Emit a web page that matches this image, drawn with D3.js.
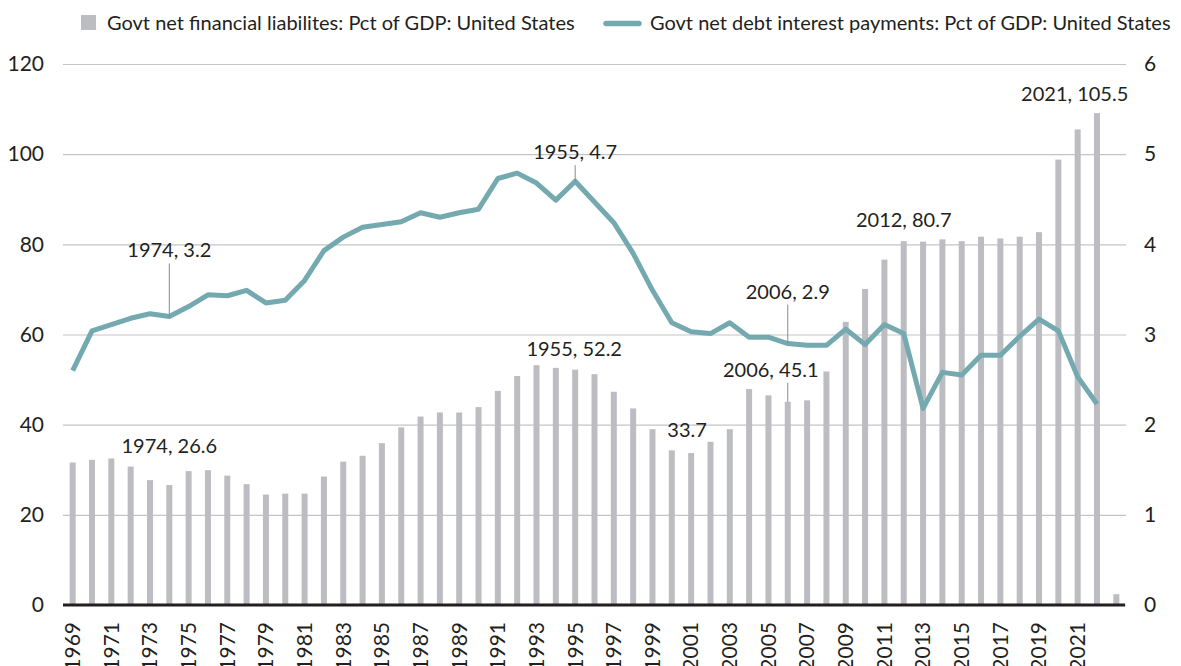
<!DOCTYPE html>
<html>
<head>
<meta charset="utf-8">
<script src="https://cdn.jsdelivr.net/npm/d3@7"></script>
<style>
  body { margin: 0; background: #fff; }
  text { font-family: Lato, "Noto Sans", sans-serif; fill: #231f20; }
</style>
</head>
<body>
<div id="chart"></div>
<script>
var width = 1181;
var height = 666;

var years = d3.range(1969, 2024);

var liabilities = [
    31.6, 32.2, 32.5, 30.7, 27.7, 26.6, 29.7, 29.9, 28.7, 26.8,
    24.5, 24.7, 24.7, 28.5, 31.8, 33.1, 35.9, 39.4, 41.8, 42.7,
    42.7, 43.9, 47.5, 50.8, 53.2, 52.6, 52.2, 51.2, 47.3, 43.6,
    39.0, 34.3, 33.7, 36.2, 39.0, 47.9, 46.5, 45.1, 45.4, 51.8,
    62.8, 70.1, 76.6, 80.7, 80.6, 81.1, 80.7, 81.7, 81.3, 81.7,
    82.7, 98.8, 105.5, 109.1, 2.4
];

var interest = [
    2.60, 3.04, 3.11, 3.18, 3.23, 3.20, 3.31, 3.44, 3.43, 3.49,
    3.35, 3.38, 3.60, 3.93, 4.08, 4.19, 4.22, 4.25, 4.35, 4.30,
    4.35, 4.39, 4.73, 4.79, 4.68, 4.49, 4.70, 4.47, 4.24, 3.90,
    3.49, 3.13, 3.03, 3.01, 3.13, 2.97, 2.97, 2.90, 2.88, 2.88,
    3.06, 2.89, 3.11, 3.01, 2.18, 2.58, 2.55, 2.77, 2.77, 2.98,
    3.17, 3.04, 2.53, 2.23, null
];

var leftTicks = [0, 20, 40, 60, 80, 100, 120];
var rightTicks = [0, 1, 2, 3, 4, 5, 6];
var tickYears = d3.range(1969, 2022, 2);

var legendNames = ['Govt net financial liabilites: Pct of GDP: United States',
                   'Govt net debt interest payments: Pct of GDP: United States'];

// label text, year it sits on, offset of text from bar top
var barNotes = [
    { text: '1974, 26.6', year: 1974, dx: 0, up: 32, leader: false },
    { text: '1955, 52.2', year: 1995, dx: -1, up: 14, leader: false },
    { text: '33.7', year: 2001, dx: -4, up: 16, leader: false },
    { text: '2006, 45.1', year: 2006, dx: -17, up: 25, leader: true },
    { text: '2012, 80.7', year: 2012, dx: 0, up: 14, leader: false },
    { text: '2021, 105.5', year: 2021, dx: -3, up: 28, leader: false }
];
var lineNotes = [
    { text: '1974, 3.2', year: 1974, len: 53 },
    { text: '1955, 4.7', year: 1995, len: 16 },
    { text: '2006, 2.9', year: 2006, len: 39 }
];

var barColor = '#bcbdc0';
var lineColor = '#74a9b0';

var svg = d3.select('#chart')
    .append('svg')
    .attr('width', width)
    .attr('height', height);

var x = d3.scaleBand()
    .domain(years)
    .range([63, 1126])
    .paddingInner(0.69)
    .paddingOuter(0.345);

var yLeft = d3.scaleLinear().domain([0, 120]).range([605, 64]);
var yRight = d3.scaleLinear().domain([0, 6]).range([605, 64]);

// gridlines + left labels
var leftAxis = d3.axisLeft(yLeft).tickValues(leftTicks).tickSize(-(1126 - 63)).tickPadding(19);
svg.append('g')
    .attr('transform', 'translate(63,0)')
    .call(leftAxis)
    .call(g => g.select('.domain').remove())
    .call(g => g.selectAll('line').attr('stroke', '#c4c4c4').attr('stroke-width', 1.2))
    .call(g => g.selectAll('text').attr('font-size', 21).attr('fill', '#231f20'));

var rightAxis = d3.axisRight(yRight).tickValues(rightTicks).tickFormat(d3.format('d')).tickSize(0).tickPadding(18);
svg.append('g')
    .attr('transform', 'translate(1126,0)')
    .call(rightAxis)
    .call(g => g.select('.domain').remove())
    .call(g => g.selectAll('text').attr('font-size', 21).attr('fill', '#231f20'));

// bars
svg.append('g')
    .selectAll('rect')
    .data(years)
    .enter()
    .append('rect')
    .attr('x', (d) => x(d))
    .attr('y', (d, i) => yLeft(liabilities[i]))
    .attr('width', x.bandwidth())
    .attr('height', (d, i) => yLeft(0) - yLeft(liabilities[i]))
    .attr('fill', barColor);

// baseline
svg.append('line')
    .attr('x1', 63).attr('x2', 1125)
    .attr('y1', yLeft(0)).attr('y2', yLeft(0))
    .attr('stroke', '#231f20')
    .attr('stroke-width', 2.8);

// x axis labels
var xAxis = d3.axisBottom(x).tickValues(tickYears).tickSize(0).tickPadding(0);
svg.append('g')
    .attr('transform', 'translate(0,' + yLeft(0) + ')')
    .call(xAxis)
    .call(g => g.select('.domain').remove())
    .selectAll('text')
    .attr('font-size', 21)
    .attr('fill', '#231f20')
    .attr('text-anchor', 'end')
    .attr('transform', 'translate(0,17) rotate(-90)')
    .attr('x', 0)
    .attr('y', 0)
    .attr('dy', '0.35em');

// line
var cx = (yr) => x(yr) + x.bandwidth() / 2;
var line = d3.line()
    .defined((d, i) => interest[i] != null)
    .x((d) => cx(d))
    .y((d, i) => yRight(interest[i]));

svg.append('path')
    .datum(years)
    .attr('d', line)
    .attr('fill', 'none')
    .attr('stroke', lineColor)
    .attr('stroke-width', 5)
    .attr('stroke-linejoin', 'round');

// annotations on bars
barNotes.forEach(function(n) {
    var i = years.indexOf(n.year);
    var top = yLeft(liabilities[i]);
    var ty = top - n.up;
    svg.append('text')
        .attr('x', cx(n.year) + n.dx)
        .attr('y', ty)
        .attr('text-anchor', 'middle')
        .attr('font-size', 20)
        .text(n.text);
    if (n.leader) {
        svg.append('line')
            .attr('x1', cx(n.year)).attr('x2', cx(n.year))
            .attr('y1', ty + 6).attr('y2', top)
            .attr('stroke', '#8a8a8a').attr('stroke-width', 1);
    }
});

// annotations on line
lineNotes.forEach(function(n) {
    var i = years.indexOf(n.year);
    var py = yRight(interest[i]);
    svg.append('line')
        .attr('x1', cx(n.year)).attr('x2', cx(n.year))
        .attr('y1', py - n.len).attr('y2', py)
        .attr('stroke', '#8a8a8a').attr('stroke-width', 1);
    svg.append('text')
        .attr('x', cx(n.year))
        .attr('y', py - n.len - 6)
        .attr('text-anchor', 'middle')
        .attr('font-size', 20)
        .text(n.text);
});

// legend
var legend = svg.append('g');
legend.append('rect')
    .attr('x', 81).attr('y', 15).attr('width', 15).attr('height', 15)
    .attr('fill', barColor);
legend.append('text')
    .attr('x', 107).attr('y', 29.5)
    .attr('font-size', 20)
    .text(legendNames[0]);
legend.append('line')
    .attr('x1', 606).attr('x2', 639).attr('y1', 23.5).attr('y2', 23.5)
    .attr('stroke', lineColor).attr('stroke-width', 5.5).attr('stroke-linecap', 'round');
legend.append('text')
    .attr('x', 650).attr('y', 29.5)
    .attr('font-size', 20)
    .text(legendNames[1]);
</script>
</body>
</html>
